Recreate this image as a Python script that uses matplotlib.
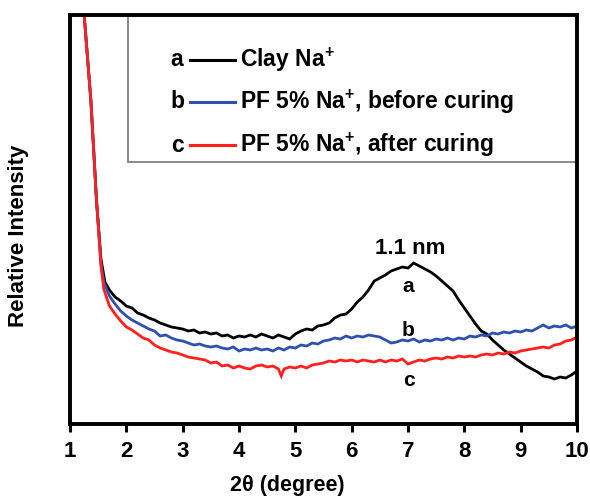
import matplotlib
matplotlib.use("Agg")
import matplotlib.pyplot as plt
from matplotlib.patches import Rectangle
from matplotlib.lines import Line2D

plt.rcParams['font.family'] = ['Liberation Sans', 'DejaVu Sans']
plt.rcParams['mathtext.fontset'] = 'custom'
plt.rcParams['mathtext.rm'] = 'Liberation Sans:bold'
plt.rcParams['mathtext.bf'] = 'Liberation Sans:bold'

# ---- data (2theta in degrees, relative intensity in arbitrary units) ----
theta_a = [1.20, 1.25, 1.37, 1.47, 1.55, 1.62, 1.70, 1.80, 1.90, 2.00, 2.10, 2.20, 2.30, 2.40, 2.50,
           2.60, 2.70, 2.80, 2.90, 3.00, 3.10, 3.20, 3.30, 3.40, 3.50, 3.60, 3.70, 3.80, 3.90, 4.00,
           4.10, 4.20, 4.30, 4.40, 4.50, 4.60, 4.70, 4.80, 4.90, 5.00, 5.10, 5.20, 5.30, 5.40, 5.50,
           5.60, 5.70, 5.80, 5.90, 6.00, 6.10, 6.20, 6.30, 6.40, 6.50, 6.60, 6.70, 6.80, 6.90, 7.00,
           7.10, 7.20, 7.30, 7.40, 7.50, 7.60, 7.70, 7.80, 7.90, 8.00, 8.10, 8.20, 8.30, 8.40, 8.50,
           8.60, 8.70, 8.80, 8.90, 9.00, 9.10, 9.20, 9.30, 9.40, 9.50, 9.60, 9.70, 9.80, 9.90, 10.0]
int_a = [460, 410, 324, 224, 165, 142, 134, 127, 123, 118, 116, 111, 109, 106, 104,
         101, 99, 97, 96, 95, 93, 94, 91, 92, 90, 91, 88, 89, 86, 88,
         87, 89, 87, 90, 88, 86, 89, 87, 85, 90, 93, 95, 94, 98, 99,
         101, 106, 109, 110, 115, 122, 127, 134, 143, 146, 149, 153, 155, 157, 156,
         161, 158, 155, 152, 148, 143, 138, 133, 124, 116, 108, 100, 93, 90, 84,
         79, 74, 70, 66, 62, 58, 55, 52, 48, 47, 45, 47, 46, 49, 53]

theta_b = [1.20, 1.25, 1.37, 1.47, 1.55, 1.60, 1.70, 1.80, 1.90, 2.00, 2.10, 2.20, 2.30, 2.40, 2.50,
           2.60, 2.70, 2.80, 2.90, 3.00, 3.10, 3.20, 3.30, 3.40, 3.50, 3.60, 3.70, 3.80, 3.90, 4.00,
           4.10, 4.20, 4.30, 4.40, 4.50, 4.60, 4.70, 4.80, 4.90, 5.00, 5.10, 5.20, 5.30, 5.40, 5.50,
           5.60, 5.70, 5.80, 5.90, 6.00, 6.10, 6.20, 6.30, 6.40, 6.50, 6.60, 6.70, 6.80, 6.90, 7.00,
           7.10, 7.20, 7.30, 7.40, 7.50, 7.60, 7.70, 7.80, 7.90, 8.00, 8.10, 8.20, 8.30, 8.40, 8.50,
           8.60, 8.70, 8.80, 8.90, 9.00, 9.10, 9.20, 9.30, 9.40, 9.50, 9.60, 9.70, 9.80, 9.90, 10.0]
int_b = [460, 410, 324, 224, 160, 142, 128, 120, 113, 108, 104, 101, 98, 95, 93,
         88, 89, 86, 84, 83, 81, 79, 80, 78, 77, 78, 76, 75, 77, 73,
         75, 74, 76, 74, 75, 73, 76, 74, 77, 76, 79, 78, 81, 80, 83,
         84, 86, 85, 88, 86, 88, 87, 89, 88, 87, 84, 81, 82, 84, 83,
         85, 82, 84, 83, 85, 84, 86, 84, 86, 85, 88, 87, 89, 88, 91,
         90, 92, 91, 93, 92, 94, 93, 96, 99, 96, 98, 97, 99, 96, 98]

theta_c = [1.20, 1.25, 1.37, 1.47, 1.55, 1.60, 1.70, 1.80, 1.90, 2.00, 2.10, 2.20, 2.30, 2.40, 2.50,
           2.60, 2.70, 2.80, 2.90, 3.00, 3.10, 3.20, 3.30, 3.40, 3.50, 3.60, 3.70, 3.80, 3.90, 4.00,
           4.10, 4.20, 4.30, 4.40, 4.50, 4.60, 4.70, 4.75, 4.80, 4.90, 5.00, 5.10, 5.20, 5.30, 5.40,
           5.50, 5.60, 5.70, 5.80, 5.90, 6.00, 6.10, 6.20, 6.30, 6.40, 6.50, 6.60, 6.70, 6.80, 6.90,
           7.00, 7.10, 7.20, 7.30, 7.40, 7.50, 7.60, 7.70, 7.80, 7.90, 8.00, 8.10, 8.20, 8.30, 8.40,
           8.50, 8.60, 8.70, 8.80, 8.90, 9.00, 9.10, 9.20, 9.30, 9.40, 9.50, 9.60, 9.70, 9.80, 9.90, 10.0]
int_c = [460, 410, 324, 224, 158, 135, 118, 110, 103, 97, 94, 90, 86, 84, 79,
         76, 74, 72, 71, 69, 67, 66, 65, 64, 61, 62, 58, 59, 56, 58,
         56, 55, 58, 59, 57, 58, 55, 48, 55, 57, 56, 58, 56, 59, 60,
         61, 63, 62, 64, 63, 64, 62, 64, 63, 62, 64, 62, 64, 63, 65,
         60, 62, 64, 63, 65, 66, 65, 67, 66, 68, 67, 68, 67, 69, 70,
         69, 71, 70, 72, 71, 73, 74, 75, 76, 77, 76, 79, 80, 83, 84, 87]

xticks = [1, 2, 3, 4, 5, 6, 7, 8, 9, 10]
legend_letters = ['a', 'b', 'c']
legend_labels = [r'Clay Na$^{+}$', r'PF 5% Na$^{+}$, before curing', r'PF 5% Na$^{+}$, after curing']
colors = ['black', '#3050b0', '#ff2020']

fig = plt.figure(figsize=(5.9, 5.0), dpi=100)
ax = fig.add_axes([70/590, 76/500, 507/590, 409/500])

for th, it, c in zip([theta_a, theta_b, theta_c], [int_a, int_b, int_c], colors):
    ax.plot(th, it, color=c, lw=2.0, solid_joinstyle='miter')

ax.set_xlim(1, 10)
ax.set_ylim(0, 409)
ax.set_xticks(xticks)
ax.set_xticklabels([str(t) for t in xticks], fontsize=16, fontweight='bold')
ax.set_yticks([])
ax.tick_params(axis='x', direction='out', length=6, width=2.2, pad=6)
for s in ax.spines.values():
    s.set_linewidth(2.8)
    s.set_zorder(10)

fig.text(287/590, 1 - 486/500, '2θ (degree)', fontsize=15.5, fontweight='bold',
         ha='center', va='center')
fig.text(19/590, 1 - 236/500, 'Relative Intensity', rotation=90, fontsize=16,
         fontweight='bold', ha='center', va='center')

# annotations
ax.text(7.04, 176, '1.1 nm', fontsize=16, fontweight='bold', ha='center', va='center')
ax.text(7.0, 137, 'a', fontsize=15, fontweight='bold', ha='center', va='center')
ax.text(7.0, 94, 'b', fontsize=15, fontweight='bold', ha='center', va='center')
ax.text(7.02, 44, 'c', fontsize=15, fontweight='bold', ha='center', va='center')

# legend box
x0 = (128 - 70) / 507
y0 = (424 - 162) / 409
ax.add_patch(Rectangle((x0, y0), 1 - x0, 1 - y0, transform=ax.transAxes,
                       facecolor='white', edgecolor='#808080', lw=1.3, zorder=5))
rows_px = [60, 102, 145]
for letter, lab, c, ypx in zip(legend_letters, legend_labels, colors, rows_px):
    ya = (424 - ypx) / 409
    ax.text((177 - 70) / 507, ya, letter, transform=ax.transAxes, fontsize=16.5,
            fontweight='bold', ha='center', va='center', zorder=6)
    ax.add_line(Line2D([(190 - 70) / 507, (235 - 70) / 507], [ya, ya], transform=ax.transAxes,
                       color=c, lw=2.2, zorder=6))
    ax.text((240 - 70) / 507, ya, lab, transform=ax.transAxes, fontsize=16.5,
            fontweight='bold', ha='left', va='center', zorder=6)

fig.savefig('out.png', dpi=100)
